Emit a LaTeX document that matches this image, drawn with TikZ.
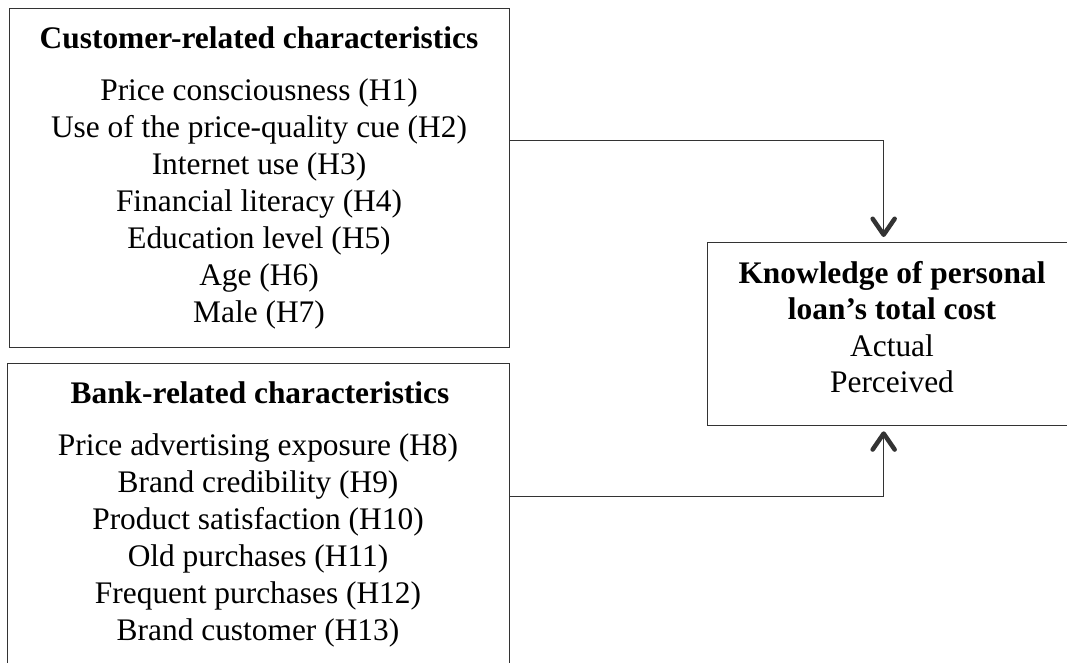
\documentclass[tikz,border=0pt]{standalone}
\usepackage{fontspec}
\setmainfont{Liberation Serif}
\usetikzlibrary{arrows.meta}
\begin{document}
\begin{tikzpicture}[x=1pt,y=-1pt,
  box/.style={draw=black!80,line width=1.3pt,anchor=north west,inner sep=0pt},
  txt/.style={anchor=base,inner sep=0pt,font=\fontsize{31.4}{36}\selectfont},
  ttl/.style={txt,font=\fontsize{31.4}{36}\selectfont\bfseries},
  conn/.style={draw=black!80,line width=1pt,
    -{Straight Barb[length=16pt,width=22pt,line width=4.5pt,round=false]},shorten >=5pt}]
\useasboundingbox (0,0) rectangle (1067,663);
\clip (0,0) rectangle (1067,663);
% boxes
\node[box,minimum width=500pt,minimum height=339pt] (cust) at (9,8) {};
\node[box,minimum width=502pt,minimum height=320pt] (bank) at (7,363) {};
\node[box,minimum width=370pt,minimum height=183pt] (know) at (707,242) {};
% customer texts
\node[ttl] (ct) at (259,49) {Customer-related characteristics};
\foreach \t [count=\i] in {Price consciousness (H1),Use of the price-quality cue (H2),Internet use (H3),Financial literacy (H4),Education level (H5),Age (H6),Male (H7)}
  \node[txt] (c\i) at (259,{101+36.9*(\i-1)}) {\t};
% bank texts
\node[ttl] (bt) at (260,403) {Bank-related characteristics};
\foreach \t [count=\i] in {Price advertising exposure (H8),Brand credibility (H9),Product satisfaction (H10),Old purchases (H11),Frequent purchases (H12),Brand customer (H13)}
  \node[txt] (b\i) at (258,{455+37*(\i-1)}) {\t};
% knowledge texts
\node[ttl] (k1) at (892,283) {Knowledge of personal};
\node[ttl] (k2) at (892,319) {loan’s total cost};
\node[txt] (k3) at (892,356) {Actual};
\node[txt] (k4) at (892,392) {Perceived};
% connectors
\draw[conn] ([yshift=-133pt]cust.north east) -| ([xshift=-9pt]know.north);
\draw[conn] ([yshift=-133pt]bank.north east) -| ([xshift=-9pt]know.south);
\end{tikzpicture}
\end{document}
